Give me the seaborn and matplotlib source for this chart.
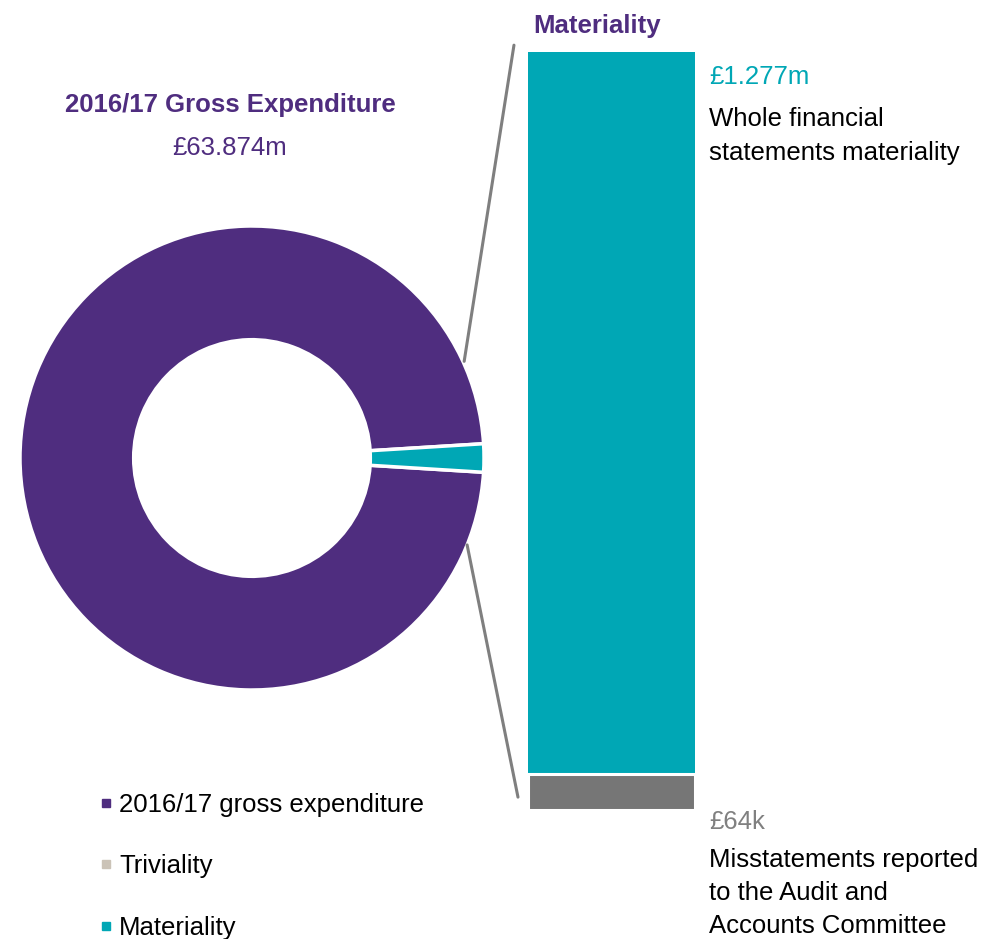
import matplotlib
matplotlib.use("Agg")
import matplotlib.pyplot as plt
import seaborn as sns
import numpy as np
from matplotlib.lines import Line2D
from matplotlib.patches import ConnectionPatch

sns.set_theme(style="white")
plt.rcParams['font.family'] = ['Liberation Sans', 'DejaVu Sans']

# ---- data ----
donut_labels = ["2016/17 gross expenditure", "Materiality"]
donut_values = [63.874, 1.277]          # £m
bar_categories = ["Materiality"]
materiality_k = [1277]                  # £k
triviality_k = [64]                     # £k
legend_labels = ["2016/17 gross expenditure", "Triviality", "Materiality"]

PURPLE = "#4F2D7F"
TEAL = "#00A7B5"
GREY = "#767676"
TRIV = "#CBC3B7"
FS = 18.5

W, H = 984, 939
fig = plt.figure(figsize=(W / 100, H / 100), dpi=100)

def px_axes(x0, y0, x1, y1):
    return fig.add_axes([x0 / W, 1 - y1 / H, (x1 - x0) / W, (y1 - y0) / H])

# ---- donut ----
cx, cy, R = 252, 458, 232
ax1 = px_axes(cx - R, cy - R, cx + R, cy + R)
teal_angle = 360 * donut_values[1] / sum(donut_values)
ax1.pie(donut_values, colors=[PURPLE, TEAL], startangle=-teal_angle / 2,
        counterclock=False, radius=1,
        wedgeprops=dict(width=0.49, edgecolor="white", linewidth=2.5))
ax1.set_xlim(-1, 1)
ax1.set_ylim(-1, 1)
ax1.set_aspect("equal")
ax1.axis("off")

# ---- stacked bar ----
ax2 = px_axes(528, 52, 695, 810)
total = [m + t for m, t in zip(materiality_k, triviality_k)]
sns.barplot(x=bar_categories, y=total, color=TEAL, width=1.0, ax=ax2,
            edgecolor="white", linewidth=0, saturation=1)
sns.barplot(x=bar_categories, y=triviality_k, color=GREY, width=1.0, ax=ax2,
            edgecolor="white", linewidth=2.2, saturation=1)
ax2.set_xlim(-0.5, 0.5)
ax2.set_ylim(0, total[0])
ax2.axis("off")

# ---- connector lines ----
for (a_ang, r_fac), xyB in [((24.5, 1.005), (-0.084, 1.009)),
                            ((-22.0, 1.0), (-0.06, 0.017))]:
    t = np.deg2rad(a_ang)
    con = ConnectionPatch(xyA=(r_fac * np.cos(t), r_fac * np.sin(t)), coordsA=ax1.transData,
                          xyB=xyB, coordsB=ax2.transAxes,
                          color="#7F7F7F", linewidth=2.2)
    fig.add_artist(con)

# ---- texts ----
def ftext(x, y, s, **kw):
    fig.text(x / W, 1 - y / H, s, **kw)

ftext(230, 105, "2016/17 Gross Expenditure", color=PURPLE, fontsize=FS,
      fontweight="bold", ha="center", va="center")
ftext(230, 148, "£63.874m", color=PURPLE, fontsize=FS, ha="center", va="center")
ftext(597, 26, "Materiality", color=PURPLE, fontsize=FS, fontweight="bold",
      ha="center", va="center")

ftext(709, 77, "£1.277m", color=TEAL, fontsize=FS, ha="left", va="center")
ftext(709, 136, "Whole financial\nstatements materiality", color="black",
      fontsize=FS, ha="left", va="center", linespacing=1.5)
ftext(709, 822, "£64k", color="#808080", fontsize=FS, ha="left", va="center")
ftext(709, 893, "Misstatements reported\nto the Audit and\nAccounts Committee",
      color="black", fontsize=FS, ha="left", va="center", linespacing=1.46)

# ---- legend ----
handles = [Line2D([], [], marker="s", linestyle="", color=c, markersize=6)
           for c in [PURPLE, TRIV, TEAL]]
fig.legend(handles, legend_labels, loc="upper left",
           bbox_to_anchor=(96 / W, 1 - 793 / H), frameon=False, fontsize=FS,
           handletextpad=0.1, handlelength=0.8, labelspacing=1.45,
           borderpad=0, borderaxespad=0, labelcolor="black")

fig.savefig("out.png", dpi=100)
